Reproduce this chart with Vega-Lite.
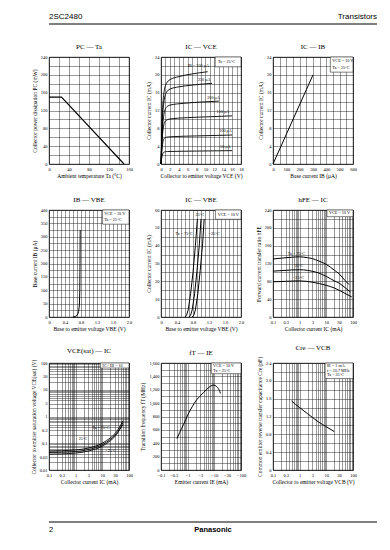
{
"$schema": "https://vega.github.io/schema/vega-lite/v6.json",
"padding": {"left": 30, "top": 13, "right": 10, "bottom": 5},
"background": "white",
"spacing": 17,
"vconcat": [
{"width": 328, "height": 10, "view": {"stroke": null},
 "encoding": {"x": {"field": "x", "type": "quantitative", "scale": {"domain": [0, 1]}, "axis": null}, "y": {"field": "y", "type": "quantitative", "scale": {"domain": [0, 1]}, "axis": null}},
 "layer": [
  {"data": {"values": [{"x": 0, "x2": 1, "y": 0}]}, "mark": {"type": "rule", "color": "#000", "strokeWidth": 1}, "encoding": {"x2": {"field": "x2"}}},
  {"data": {"values": [{"x": 0, "y": 0, "t": "2SC2480"}]}, "mark": {"type": "text", "align": "left", "baseline": "bottom", "dy": -3, "font": "Liberation Sans", "fontSize": 8}, "encoding": {"text": {"field": "t"}}},
  {"data": {"values": [{"x": 1, "y": 0, "t": "Transistors"}]}, "mark": {"type": "text", "align": "right", "baseline": "bottom", "dy": -3, "font": "Liberation Sans", "fontSize": 8}, "encoding": {"text": {"field": "t"}}}
 ]},
{"columns": 3, "bounds": "flush", "spacing": {"row": 46, "column": 32},
 "concat": [
 {"title": {"text": "PC — Ta", "fontWeight": 400}, "width": 80, "height": 107,
  "encoding": {
   "x": {"field": "x", "type": "quantitative", "scale": {"domain": [0, 160], "nice": false}, "axis": {"title": "Ambient temperature  Ta  (°C)", "values": [0,20,40,60,80,100,120,140,160], "labelExpr": "datum.value % 40 === 0 ? datum.label : ''"}},
   "y": {"field": "y", "type": "quantitative", "scale": {"domain": [0, 240], "nice": false}, "axis": {"title": "Collector power dissipation  PC  (mW)", "values": [0,20,40,60,80,100,120,140,160,180,200,220,240], "labelExpr": "datum.value % 40 === 0 ? datum.label : ''"}}},
  "layer": [
   {"data": {"values": [{"x": 0, "y": 150}, {"x": 25, "y": 150}, {"x": 150, "y": 0}]},
    "mark": {"type": "line", "color": "#000", "strokeWidth": 1.1}}
  ]},
 {"title": {"text": "IC — VCE", "fontWeight": 400}, "width": 80, "height": 107,
  "encoding": {
   "x": {"field": "x", "type": "quantitative", "scale": {"domain": [0, 18], "nice": false}, "axis": {"title": "Collector to emitter voltage  VCE  (V)", "values": [0,1,2,3,4,5,6,7,8,9,10,11,12,13,14,15,16,17,18], "labelExpr": "datum.value % 2 === 0 ? datum.label : ''"}},
   "y": {"field": "y", "type": "quantitative", "scale": {"domain": [0, 24], "nice": false}, "axis": {"title": "Collector current  IC  (mA)", "values": [0,2,4,6,8,10,12,14,16,18,20,22,24], "labelExpr": "datum.value % 4 === 0 ? datum.label : ''"}}},
  "layer": [
   {"data": {"values": [
     {"s": "300", "x": 0, "y": 0}, {"s": "300", "x": 0.15, "y": 6}, {"s": "300", "x": 0.3, "y": 11}, {"s": "300", "x": 0.5, "y": 14.5}, {"s": "300", "x": 0.8, "y": 16.8}, {"s": "300", "x": 1.2, "y": 18}, {"s": "300", "x": 2, "y": 18.9}, {"s": "300", "x": 4, "y": 19.6}, {"s": "300", "x": 7, "y": 20.2}, {"s": "300", "x": 10.5, "y": 20.7},
     {"s": "250", "x": 0, "y": 0}, {"s": "250", "x": 0.15, "y": 5}, {"s": "250", "x": 0.3, "y": 9.5}, {"s": "250", "x": 0.5, "y": 12.5}, {"s": "250", "x": 0.8, "y": 14.8}, {"s": "250", "x": 1.2, "y": 16}, {"s": "250", "x": 2, "y": 16.8}, {"s": "250", "x": 4, "y": 17.3}, {"s": "250", "x": 7, "y": 17.7}, {"s": "250", "x": 11.5, "y": 18.1},
     {"s": "200", "x": 0, "y": 0}, {"s": "200", "x": 0.15, "y": 4}, {"s": "200", "x": 0.3, "y": 7.5}, {"s": "200", "x": 0.5, "y": 10}, {"s": "200", "x": 0.8, "y": 11.8}, {"s": "200", "x": 1.2, "y": 12.7}, {"s": "200", "x": 2, "y": 13.2}, {"s": "200", "x": 5, "y": 13.6}, {"s": "200", "x": 9, "y": 13.9}, {"s": "200", "x": 13, "y": 14.1},
     {"s": "150", "x": 0, "y": 0}, {"s": "150", "x": 0.15, "y": 3.2}, {"s": "150", "x": 0.3, "y": 6}, {"s": "150", "x": 0.5, "y": 8}, {"s": "150", "x": 0.8, "y": 9.3}, {"s": "150", "x": 1.2, "y": 9.8}, {"s": "150", "x": 2, "y": 10.1}, {"s": "150", "x": 6, "y": 10.4}, {"s": "150", "x": 11, "y": 10.6}, {"s": "150", "x": 16, "y": 10.8},
     {"s": "100", "x": 0, "y": 0}, {"s": "100", "x": 0.15, "y": 2.2}, {"s": "100", "x": 0.3, "y": 4}, {"s": "100", "x": 0.5, "y": 5.2}, {"s": "100", "x": 0.8, "y": 5.8}, {"s": "100", "x": 1.2, "y": 6}, {"s": "100", "x": 2, "y": 6.1}, {"s": "100", "x": 8, "y": 6.3}, {"s": "100", "x": 16, "y": 6.5},
     {"s": "50", "x": 0, "y": 0}, {"s": "50", "x": 0.15, "y": 1.2}, {"s": "50", "x": 0.3, "y": 2}, {"s": "50", "x": 0.5, "y": 2.5}, {"s": "50", "x": 0.8, "y": 2.7}, {"s": "50", "x": 1.5, "y": 2.8}, {"s": "50", "x": 8, "y": 2.9}, {"s": "50", "x": 16, "y": 3.0}]},
    "mark": {"type": "line", "color": "#000", "strokeWidth": 0.9, "interpolate": "monotone"},
    "encoding": {"detail": {"field": "s"}}},
   {"data": {"values": [{"x": 12.2, "x2": 18, "y": 21.8, "y2": 24}]}, "mark": {"type": "rect", "fill": "#fff", "stroke": "#000", "strokeWidth": 0.5},
    "encoding": {"x2": {"field": "x2"}, "y2": {"field": "y2"}}},
   {"data": {"values": [{"x": 12.8, "y": 22.9, "t": "Ta = 25°C"}, {"x": 6.0, "y": 21.9, "t": "IB = 300 μA"}, {"x": 8.3, "y": 18.9, "t": "250 μA"}, {"x": 10.4, "y": 14.9, "t": "200 μA"}, {"x": 12.5, "y": 11.6, "t": "150 μA"}, {"x": 13.1, "y": 7.3, "t": "100 μA"}, {"x": 13.3, "y": 3.8, "t": "50 μA"}]},
    "mark": {"type": "text", "align": "left", "baseline": "middle", "fontSize": 4.2},
    "encoding": {"text": {"field": "t"}}}
  ]},
 {"title": {"text": "IC — IB", "fontWeight": 400}, "width": 80, "height": 107,
  "encoding": {
   "x": {"field": "x", "type": "quantitative", "scale": {"domain": [0, 600], "nice": false}, "axis": {"title": "Base current  IB  (μA)", "values": [0,50,100,150,200,250,300,350,400,450,500,550,600], "labelExpr": "datum.value % 100 === 0 ? datum.label : ''"}},
   "y": {"field": "y", "type": "quantitative", "scale": {"domain": [0, 24], "nice": false}, "axis": {"title": "Collector current  IC  (mA)", "values": [0,2,4,6,8,10,12,14,16,18,20,22,24], "labelExpr": "datum.value % 4 === 0 ? datum.label : ''"}}},
  "layer": [
   {"data": {"values": [{"x": 0, "y": 0}, {"x": 300, "y": 20}]},
    "mark": {"type": "line", "color": "#000", "strokeWidth": 1}},
   {"data": {"values": [{"x": 430, "x2": 600, "y": 20.6, "y2": 24}]}, "mark": {"type": "rect", "fill": "#fff", "stroke": "#000", "strokeWidth": 0.5},
    "encoding": {"x2": {"field": "x2"}, "y2": {"field": "y2"}}},
   {"data": {"values": [{"x": 445, "y": 23.0, "t": "VCE = 10 V"}, {"x": 445, "y": 21.5, "t": "Ta = 25°C"}]},
    "mark": {"type": "text", "align": "left", "baseline": "middle", "fontSize": 4.2},
    "encoding": {"text": {"field": "t"}}}
  ]},
 {"title": {"text": "IB — VBE", "fontWeight": 400}, "width": 80, "height": 107,
  "encoding": {
   "x": {"field": "x", "type": "quantitative", "scale": {"domain": [0, 2], "nice": false}, "axis": {"title": "Base to emitter voltage  VBE  (V)", "values": [0,0.1,0.2,0.3,0.4,0.5,0.6,0.7,0.8,0.9,1,1.1,1.2,1.3,1.4,1.5,1.6,1.7,1.8,1.9,2], "labelExpr": "datum.value === 0 ? '0' : (indexof([0.4,0.8,1.2,1.6,2], datum.value) >= 0 ? format(datum.value, '.1f') : '')"}},
   "y": {"field": "y", "type": "quantitative", "scale": {"domain": [0, 400], "nice": false}, "axis": {"title": "Base current  IB  (μA)", "values": [0,25,50,75,100,125,150,175,200,225,250,275,300,325,350,375,400], "labelExpr": "datum.value % 50 === 0 ? datum.label : ''"}}},
  "layer": [
   {"data": {"values": [{"x": 0.6, "y": 0}, {"x": 0.66, "y": 2}, {"x": 0.71, "y": 8}, {"x": 0.74, "y": 20}, {"x": 0.76, "y": 45}, {"x": 0.77, "y": 100}, {"x": 0.775, "y": 200}, {"x": 0.78, "y": 325}]},
    "mark": {"type": "line", "color": "#000", "strokeWidth": 1}},
   {"data": {"values": [{"x": 1.34, "x2": 2, "y": 347, "y2": 400}]}, "mark": {"type": "rect", "fill": "#fff", "stroke": "#000", "strokeWidth": 0.5},
    "encoding": {"x2": {"field": "x2"}, "y2": {"field": "y2"}}},
   {"data": {"values": [{"x": 1.38, "y": 385, "t": "VCE = 10 V"}, {"x": 1.38, "y": 362, "t": "Ta = 25°C"}]},
    "mark": {"type": "text", "align": "left", "baseline": "middle", "fontSize": 4.2},
    "encoding": {"text": {"field": "t"}}}
  ]},
 {"title": {"text": "IC — VBE", "fontWeight": 400}, "width": 80, "height": 107,
  "encoding": {
   "x": {"field": "x", "type": "quantitative", "scale": {"domain": [0, 2], "nice": false}, "axis": {"title": "Base to emitter voltage  VBE  (V)", "values": [0,0.1,0.2,0.3,0.4,0.5,0.6,0.7,0.8,0.9,1,1.1,1.2,1.3,1.4,1.5,1.6,1.7,1.8,1.9,2], "labelExpr": "datum.value === 0 ? '0' : (indexof([0.4,0.8,1.2,1.6,2], datum.value) >= 0 ? format(datum.value, '.1f') : '')"}},
   "y": {"field": "y", "type": "quantitative", "scale": {"domain": [0, 60], "nice": false}, "axis": {"title": "Collector current  IC  (mA)", "values": [0,5,10,15,20,25,30,35,40,45,50,55,60], "labelExpr": "datum.value % 10 === 0 ? datum.label : ''"}}},
  "layer": [
   {"data": {"values": [
     {"s": "75", "x": 0.6, "y": 0}, {"s": "75", "x": 0.64, "y": 1}, {"s": "75", "x": 0.68, "y": 4}, {"s": "75", "x": 0.74, "y": 13}, {"s": "75", "x": 0.8, "y": 25}, {"s": "75", "x": 0.86, "y": 40}, {"s": "75", "x": 0.91, "y": 55},
     {"s": "25", "x": 0.7, "y": 0}, {"s": "25", "x": 0.74, "y": 1}, {"s": "25", "x": 0.78, "y": 4}, {"s": "25", "x": 0.84, "y": 13}, {"s": "25", "x": 0.9, "y": 26}, {"s": "25", "x": 0.96, "y": 41}, {"s": "25", "x": 1.0, "y": 55},
     {"s": "-25", "x": 0.78, "y": 0}, {"s": "-25", "x": 0.82, "y": 1}, {"s": "-25", "x": 0.86, "y": 4}, {"s": "-25", "x": 0.92, "y": 13}, {"s": "-25", "x": 0.98, "y": 26}, {"s": "-25", "x": 1.04, "y": 41}, {"s": "-25", "x": 1.08, "y": 55}]},
    "mark": {"type": "line", "color": "#000", "strokeWidth": 1},
    "encoding": {"detail": {"field": "s"}}},
   {"data": {"values": [{"x": 1.36, "x2": 2, "y": 54.8, "y2": 60}]}, "mark": {"type": "rect", "fill": "#fff", "stroke": "#000", "strokeWidth": 0.5},
    "encoding": {"x2": {"field": "x2"}, "y2": {"field": "y2"}}},
   {"data": {"values": [{"x": 1.42, "y": 57.4, "t": "VCE = 10 V"}, {"x": 0.86, "y": 57.0, "t": "25°C"}, {"x": 0.36, "y": 46.8, "t": "Ta = 75°C"}, {"x": 1.19, "y": 46.8, "t": "−25°C"}]},
    "mark": {"type": "text", "align": "left", "baseline": "middle", "fontSize": 4.2},
    "encoding": {"text": {"field": "t"}}}
  ]},
 {"title": {"text": "hFE — IC", "fontWeight": 400}, "width": 80, "height": 107,
  "encoding": {
   "x": {"field": "x", "type": "quantitative", "scale": {"type": "log", "domain": [0.1, 100], "nice": false}, "axis": {"title": "Collector current  IC  (mA)", "values": [0.1,0.2,0.3,0.4,0.5,0.6,0.7,0.8,0.9,1,2,3,4,5,6,7,8,9,10,20,30,40,50,60,70,80,90,100], "labelExpr": "indexof([0.1,0.3,1,3,10,30,100], datum.value) >= 0 ? '' + datum.value : ''"}},
   "y": {"field": "y", "type": "quantitative", "scale": {"domain": [0, 240], "nice": false}, "axis": {"title": "Forward current transfer ratio  hFE", "values": [0,20,40,60,80,100,120,140,160,180,200,220,240], "labelExpr": "datum.value % 40 === 0 ? datum.label : ''"}}},
  "layer": [
   {"data": {"values": [
     {"s": "75", "x": 0.1, "y": 130}, {"s": "75", "x": 0.2, "y": 132}, {"s": "75", "x": 0.5, "y": 134}, {"s": "75", "x": 1, "y": 135}, {"s": "75", "x": 2, "y": 133}, {"s": "75", "x": 3, "y": 131}, {"s": "75", "x": 5, "y": 126}, {"s": "75", "x": 10, "y": 118}, {"s": "75", "x": 20, "y": 105}, {"s": "75", "x": 30, "y": 97}, {"s": "75", "x": 50, "y": 82}, {"s": "75", "x": 70, "y": 73},
     {"s": "25", "x": 0.1, "y": 103}, {"s": "25", "x": 0.2, "y": 104}, {"s": "25", "x": 0.5, "y": 105.5}, {"s": "25", "x": 1, "y": 106}, {"s": "25", "x": 2, "y": 104.5}, {"s": "25", "x": 5, "y": 99}, {"s": "25", "x": 10, "y": 91}, {"s": "25", "x": 20, "y": 81}, {"s": "25", "x": 30, "y": 76}, {"s": "25", "x": 50, "y": 66}, {"s": "25", "x": 80, "y": 56},
     {"s": "-25", "x": 0.1, "y": 79}, {"s": "-25", "x": 0.3, "y": 80}, {"s": "-25", "x": 1, "y": 81}, {"s": "-25", "x": 3, "y": 78}, {"s": "-25", "x": 10, "y": 71}, {"s": "-25", "x": 20, "y": 65}, {"s": "-25", "x": 30, "y": 60}, {"s": "-25", "x": 50, "y": 53}, {"s": "-25", "x": 90, "y": 45}]},
    "mark": {"type": "line", "color": "#000", "strokeWidth": 1, "interpolate": "monotone"},
    "encoding": {"detail": {"field": "s"}}},
   {"data": {"values": [{"x": 10.5, "x2": 100, "y": 225, "y2": 240}]}, "mark": {"type": "rect", "fill": "#fff", "stroke": "#000", "strokeWidth": 0.5},
    "encoding": {"x2": {"field": "x2"}, "y2": {"field": "y2"}}},
   {"data": {"values": [{"x": 12.5, "y": 232.5, "t": "VCE = 10 V"}, {"x": 0.36, "y": 142, "t": "Ta = 75°C"}, {"x": 0.65, "y": 115, "t": "25°C"}, {"x": 0.56, "y": 88, "t": "−25°C"}]},
    "mark": {"type": "text", "align": "left", "baseline": "middle", "fontSize": 4.2},
    "encoding": {"text": {"field": "t"}}}
  ]},
 {"title": {"text": "VCE(sat) — IC", "fontWeight": 400}, "width": 80, "height": 107,
  "encoding": {
   "x": {"field": "x", "type": "quantitative", "scale": {"type": "log", "domain": [0.1, 100], "nice": false}, "axis": {"title": "Collector current  IC  (mA)", "values": [0.1,0.2,0.3,0.4,0.5,0.6,0.7,0.8,0.9,1,2,3,4,5,6,7,8,9,10,20,30,40,50,60,70,80,90,100], "labelExpr": "indexof([0.1,0.3,1,3,10,30,100], datum.value) >= 0 ? '' + datum.value : ''"}},
   "y": {"field": "y", "type": "quantitative", "scale": {"type": "log", "domain": [0.01, 100], "nice": false}, "axis": {"title": "Collector to emitter saturation voltage  VCE(sat)  (V)", "values": [0.01,0.02,0.03,0.04,0.05,0.06,0.07,0.08,0.09,0.1,0.2,0.3,0.4,0.5,0.6,0.7,0.8,0.9,1,2,3,4,5,6,7,8,9,10,20,30,40,50,60,70,80,90,100], "labelExpr": "indexof([0.01,0.03,0.1,0.3,1,3,10,30,100], datum.value) >= 0 ? '' + datum.value : ''"}}},
  "layer": [
   {"data": {"values": [
     {"s": "75", "x": 0.1, "y": 0.052}, {"s": "75", "x": 0.3, "y": 0.053}, {"s": "75", "x": 1, "y": 0.056}, {"s": "75", "x": 3, "y": 0.066}, {"s": "75", "x": 10, "y": 0.1}, {"s": "75", "x": 20, "y": 0.16}, {"s": "75", "x": 30, "y": 0.23}, {"s": "75", "x": 50, "y": 0.5}, {"s": "75", "x": 60, "y": 0.7},
     {"s": "25", "x": 0.1, "y": 0.045}, {"s": "25", "x": 0.3, "y": 0.046}, {"s": "25", "x": 1, "y": 0.049}, {"s": "25", "x": 3, "y": 0.058}, {"s": "25", "x": 10, "y": 0.088}, {"s": "25", "x": 20, "y": 0.14}, {"s": "25", "x": 30, "y": 0.2}, {"s": "25", "x": 50, "y": 0.42}, {"s": "25", "x": 60, "y": 0.6},
     {"s": "-25", "x": 0.1, "y": 0.039}, {"s": "-25", "x": 0.3, "y": 0.040}, {"s": "-25", "x": 1, "y": 0.043}, {"s": "-25", "x": 3, "y": 0.051}, {"s": "-25", "x": 10, "y": 0.078}, {"s": "-25", "x": 20, "y": 0.125}, {"s": "-25", "x": 30, "y": 0.18}, {"s": "-25", "x": 50, "y": 0.38}, {"s": "-25", "x": 60, "y": 0.5}]},
    "mark": {"type": "line", "color": "#000", "strokeWidth": 0.9, "interpolate": "monotone"},
    "encoding": {"detail": {"field": "s"}}},
   {"data": {"values": [{"x": 8.4, "x2": 100, "y": 65, "y2": 100}]}, "mark": {"type": "rect", "fill": "#fff", "stroke": "#000", "strokeWidth": 0.5},
    "encoding": {"x2": {"field": "x2"}, "y2": {"field": "y2"}}},
   {"data": {"values": [{"x": 10, "y": 80, "t": "IC / IB = 10"}, {"x": 4.2, "y": 0.36, "t": "Ta = 75°C"}, {"x": 1.3, "y": 0.14, "t": "25°C"}, {"x": 13, "y": 0.05, "t": "−25°C"}]},
    "mark": {"type": "text", "align": "left", "baseline": "middle", "fontSize": 4.2},
    "encoding": {"text": {"field": "t"}}}
  ]},
 {"title": {"text": "fT — IE", "fontWeight": 400}, "width": 80, "height": 107,
  "encoding": {
   "x": {"field": "x", "type": "quantitative", "scale": {"type": "log", "domain": [0.1, 100], "nice": false}, "axis": {"title": "Emitter current  IE  (mA)", "values": [0.1,0.2,0.3,0.4,0.5,0.6,0.7,0.8,0.9,1,2,3,4,5,6,7,8,9,10,20,30,40,50,60,70,80,90,100], "labelExpr": "indexof([0.1,0.3,1,3,10,30,100], datum.value) >= 0 ? '−' + datum.value : ''"}},
   "y": {"field": "y", "type": "quantitative", "scale": {"domain": [0, 1600], "nice": false}, "axis": {"title": "Transition frequency  fT  (MHz)", "values": [0,100,200,300,400,500,600,700,800,900,1000,1100,1200,1300,1400,1500,1600], "labelExpr": "datum.value % 200 === 0 ? format(datum.value, ',') : ''"}}},
  "layer": [
   {"data": {"values": [{"x": 0.4, "y": 470}, {"x": 0.5, "y": 560}, {"x": 0.7, "y": 680}, {"x": 1, "y": 820}, {"x": 1.5, "y": 950}, {"x": 2, "y": 1030}, {"x": 3.16, "y": 1120}, {"x": 5, "y": 1200}, {"x": 7, "y": 1250}, {"x": 9.5, "y": 1270}, {"x": 12, "y": 1250}, {"x": 15, "y": 1200}, {"x": 17, "y": 1145}]},
    "mark": {"type": "line", "color": "#000", "strokeWidth": 1, "interpolate": "monotone"}},
   {"data": {"values": [{"x": 7.7, "x2": 100, "y": 1440, "y2": 1600}]}, "mark": {"type": "rect", "fill": "#fff", "stroke": "#000", "strokeWidth": 0.5},
    "encoding": {"x2": {"field": "x2"}, "y2": {"field": "y2"}}},
   {"data": {"values": [{"x": 9, "y": 1555, "t": "VCE = 10 V"}, {"x": 9, "y": 1485, "t": "Ta = 25°C"}]},
    "mark": {"type": "text", "align": "left", "baseline": "middle", "fontSize": 4.2},
    "encoding": {"text": {"field": "t"}}}
  ]},
 {"title": {"text": "Cre — VCB", "fontWeight": 400}, "width": 80, "height": 107,
  "encoding": {
   "x": {"field": "x", "type": "quantitative", "scale": {"type": "log", "domain": [0.1, 100], "nice": false}, "axis": {"title": "Collector to emitter voltage  VCB  (V)", "values": [0.1,0.2,0.3,0.4,0.5,0.6,0.7,0.8,0.9,1,2,3,4,5,6,7,8,9,10,20,30,40,50,60,70,80,90,100], "labelExpr": "indexof([0.1,0.3,1,3,10,30,100], datum.value) >= 0 ? '' + datum.value : ''"}},
   "y": {"field": "y", "type": "quantitative", "scale": {"domain": [0, 2.4], "nice": false}, "axis": {"title": "Common emitter reverse transfer capacitance  Cre  (pF)", "values": [0,0.2,0.4,0.6,0.8,1,1.2,1.4,1.6,1.8,2,2.2,2.4], "labelExpr": "datum.value === 0 ? '0' : (indexof([0.4,0.8,1.2,1.6,2,2.4], datum.value) >= 0 ? format(datum.value, '.1f') : '')"}}},
  "layer": [
   {"data": {"values": [{"x": 0.5, "y": 1.55}, {"x": 0.7, "y": 1.47}, {"x": 1, "y": 1.4}, {"x": 2, "y": 1.26}, {"x": 3, "y": 1.18}, {"x": 5, "y": 1.08}, {"x": 10, "y": 0.97}, {"x": 20, "y": 0.86}]},
    "mark": {"type": "line", "color": "#000", "strokeWidth": 1, "interpolate": "monotone"}},
   {"data": {"values": [{"x": 9, "x2": 100, "y": 2.05, "y2": 2.4}]}, "mark": {"type": "rect", "fill": "#fff", "stroke": "#000", "strokeWidth": 0.5},
    "encoding": {"x2": {"field": "x2"}, "y2": {"field": "y2"}}},
   {"data": {"values": [{"x": 10.5, "y": 2.33, "t": "IE = 1 mA"}, {"x": 10.5, "y": 2.225, "t": "f = 10.7 MHz"}, {"x": 10.5, "y": 2.12, "t": "Ta = 25°C"}]},
    "mark": {"type": "text", "align": "left", "baseline": "middle", "fontSize": 4.2},
    "encoding": {"text": {"field": "t"}}}
  ]}
 ]},
{"width": 328, "height": 19, "view": {"stroke": null},
 "encoding": {"x": {"field": "x", "type": "quantitative", "scale": {"domain": [0, 1]}, "axis": null}, "y": {"field": "y", "type": "quantitative", "scale": {"domain": [0, 1]}, "axis": null}},
 "layer": [
  {"data": {"values": [{"x": 0, "x2": 1, "y": 0}]}, "mark": {"type": "rule", "color": "#000", "strokeWidth": 1}, "encoding": {"x2": {"field": "x2"}}},
  {"data": {"values": [{"x": 0, "y": 0, "t": "2"}]}, "mark": {"type": "text", "align": "left", "baseline": "top", "dy": 4, "font": "Liberation Sans", "fontSize": 7.5}, "encoding": {"text": {"field": "t"}}},
  {"data": {"values": [{"x": 0.5, "y": 0, "t": "Panasonic"}]}, "mark": {"type": "text", "align": "center", "baseline": "top", "dy": 4, "font": "Liberation Sans", "fontSize": 7.5, "fontWeight": "bold"}, "encoding": {"text": {"field": "t"}}}
 ]}
],
"config": {
 "view": {"stroke": "#000", "strokeWidth": 0.8},
 "axis": {"labelFont": "Liberation Serif", "titleFont": "Liberation Serif", "labelFontSize": 4.5, "titleFontSize": 5.5, "titleFontWeight": "normal", "labelColor": "#000", "titleColor": "#000", "gridColor": "#000", "gridOpacity": 0.8, "gridWidth": 0.5, "domain": false, "ticks": false, "labelPadding": 2, "titlePadding": 3, "labelOverlap": false, "labelFlush": false},
 "title": {"font": "Liberation Serif", "fontSize": 7, "fontWeight": 400, "color": "#000", "offset": 4},
 "style": {"group-title": {"fontWeight": 400, "font": "Liberation Serif"}},
 "text": {"font": "Liberation Serif", "fontSize": 4.2, "color": "#000"}
}
}
